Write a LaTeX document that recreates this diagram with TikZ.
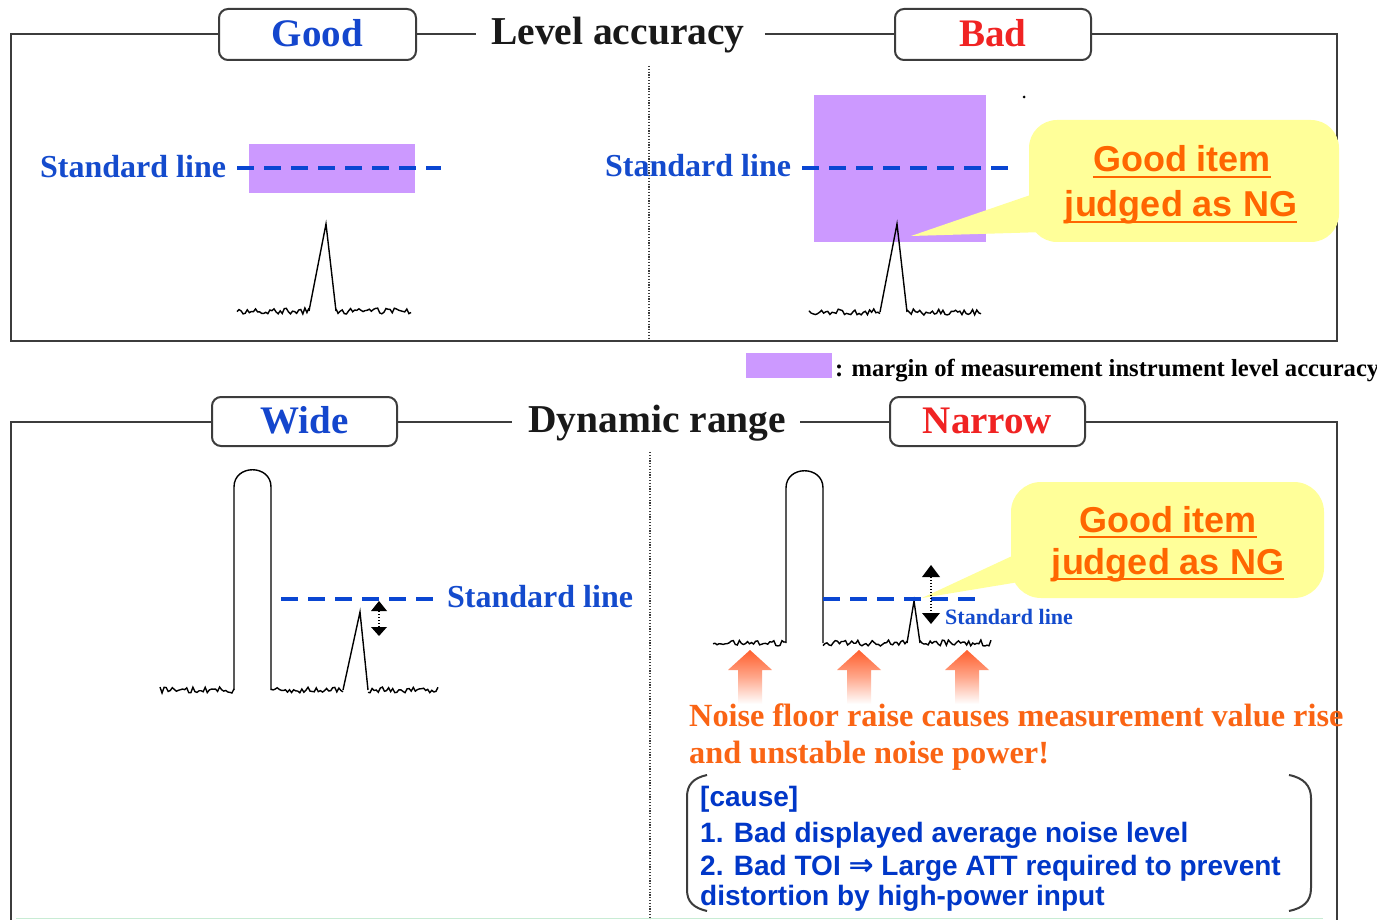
\documentclass[tikz,border=0pt]{standalone}
\usepackage{fontspec}
\setmainfont{Liberation Serif}
\newfontfamily\sansfam{Liberation Sans}
\newfontfamily\dejavu{DejaVu Sans}
\definecolor{framegray}{RGB}{60,60,60}
\definecolor{titleblue}{RGB}{20,70,205}
\definecolor{badred}{RGB}{240,35,35}
\definecolor{stdblue}{RGB}{20,75,205}
\definecolor{dashblue}{RGB}{10,70,210}
\definecolor{marginpurple}{RGB}{204,153,255}
\definecolor{callyellow}{RGB}{255,255,153}
\definecolor{callorange}{RGB}{255,102,0}
\definecolor{noiseorange}{RGB}{250,100,20}
\definecolor{arroworange}{RGB}{255,95,45}
\definecolor{causeblue}{RGB}{0,55,200}
\definecolor{faintgreen}{RGB}{200,236,212}
\newcommand{\noiseseg}[4]{\draw[sig] plot[domain=#1:#2, samples=#4] (\x,{#3+3*rand});}
\begin{document}
\begin{tikzpicture}[x=1pt,y=-1pt,
  frame/.style={draw=framegray, line width=2pt},
  labbox/.style={draw=framegray, line width=2pt, rounded corners=9pt, fill=white, inner sep=0pt, font={\bfseries\fontsize{39}{45}\selectfont}},
  title/.style={inner sep=0pt, text=black!90, font={\bfseries\fontsize{39.5}{45}\selectfont}},
  sig/.style={line width=1.4pt, black, line join=miter},
  stddash/.style={draw=dashblue, line width=4pt, dash pattern=on 17pt off 10pt},
  divider/.style={draw=framegray, line width=1.2pt, dash pattern=on 1.2pt off 1.6pt},
  stdlabel/.style={inner sep=0pt, text=stdblue, font={\bfseries\fontsize{32}{38}\selectfont}},
  stdsmall/.style={inner sep=0pt, text=stdblue, font={\bfseries\fontsize{22}{26}\selectfont}},
  calltext/.style={inner sep=0pt, text=callorange, font={\sansfam\bfseries\fontsize{36}{42}\selectfont}},
  ultext/.style={draw=callorange, line width=2.5pt},
  noisetext/.style={inner sep=0pt, text=noiseorange, font={\bfseries\fontsize{32.3}{38}\selectfont}},
  causetext/.style={inner sep=0pt, text=causeblue, font={\sansfam\bfseries\fontsize{28}{32}\selectfont}},
  legendtext/.style={inner sep=0pt, font={\bfseries\fontsize{24.6}{28}\selectfont}},
  bracket/.style={draw=framegray, line width=2pt},
  dotv/.style={draw=black, line width=1.3pt, dash pattern=on 1.3pt off 1.7pt},
  uparrow/.style={top color=arroworange, bottom color=white, middle color=arroworange!55!white}
]
\pgfmathsetseed{7}
\useasboundingbox (0,0) rectangle (1377,920);
\fill[white] (0,0) rectangle (1377,920);

% ================= TOP PANEL =================
\coordinate (tl) at (11,34.5);
\coordinate (tr) at (1337,34.5);
\coordinate (bl) at (11,341);
\coordinate (br) at (1337,341);
\node[labbox, minimum width=197pt, minimum height=51pt, text height=30pt, text depth=5pt, text=titleblue] (good) at (317.5,34.5) {Good};
\node[labbox, minimum width=196pt, minimum height=51pt, text height=30pt, text depth=5pt, text=badred] (bad) at (993,34.5) {Bad};
\node[title, anchor=base west] (lvl) at (491,45) {Level accuracy};
\draw[frame] (good.west) -- (tl) -- (bl) -- (br) -- (tr) -- (bad.east);
\draw[frame] (good.east) -- ([xshift=-15pt]lvl.west |- good.east);
\draw[frame] ([xshift=20pt]lvl.east |- bad.west) -- (bad.west);
\draw[divider] (649,66) -- (649,341);

% left: good
\fill[marginpurple] (249,144) rectangle (415,193);
\node[stdlabel, anchor=base west] (std1) at (40,178) {Standard line};
\draw[stddash] (237,168) -- (441,168);
\noiseseg{237}{309}{311}{36}
\draw[sig] (309,311) -- (326,224) -- (336,311);
\noiseseg{336}{411}{311}{37}

% right: bad
\fill[marginpurple] (814,95) rectangle (986,242);
\node[stdlabel, anchor=base west] (std2) at (605,177) {Standard line};
\draw[stddash] (802,168) -- (1010,168);
\fill (1024,97) circle (1.5pt);
\fill[callyellow, rounded corners=28pt] (1029,120) rectangle (1339,242);
\fill[callyellow] (1045,190) -- (911,236) -- (1045,232) -- cycle;
\noiseseg{809}{880}{312}{35}
\draw[sig] (880,312) -- (897,224) -- (907,312);
\noiseseg{907}{981}{312}{36}
\node[calltext, anchor=base] (c1a) at (1182,172) {Good item};
\node[calltext, anchor=base] (c1b) at (1181,217) {judged as NG};
\draw[ultext] ([yshift=-5pt]c1a.base west) -- ([yshift=-5pt]c1a.base east);
\draw[ultext] ([yshift=-5pt]c1b.base west) -- ([yshift=-5pt]c1b.base east);

% legend
\node[fill=marginpurple, minimum width=86pt, minimum height=25pt, inner sep=0pt] (legbox) at (789,365.5) {};
\node[legendtext, anchor=base west] (legtxt) at (835,376) {: margin of measurement instrument level accuracy};

% ================= BOTTOM PANEL =================
\coordinate (tl2) at (11,421.5);
\coordinate (bl2) at (11,920);
\coordinate (tr2) at (1337,421.5);
\coordinate (br2) at (1337,920);
\node[labbox, minimum width=185pt, minimum height=49pt, text height=28pt, text depth=5pt, text=titleblue] (wide) at (304.5,421.5) {Wide};
\node[labbox, minimum width=195pt, minimum height=49pt, text height=28pt, text depth=5pt, text=badred] (narrow) at (987.5,421.5) {Narrow};
\node[title, anchor=base west] (dyn) at (528,432) {Dynamic range};
\draw[frame] (wide.west) -- (tl2) -- (bl2);
\draw[frame] (narrow.east) -- (tr2) -- (br2);
\draw[frame] (wide.east) -- ([xshift=-16pt]dyn.west |- wide.east);
\draw[frame] ([xshift=14pt]dyn.east |- narrow.west) -- (narrow.west);
\draw[divider] (650,452) -- (650,920);
\draw[faintgreen, line width=1.5pt] (16,918.5) -- (1323,918.5);

% left: wide
\draw[sig] (234,690) -- (234,487) .. controls (234,464) and (271,464) .. (271,487) -- (271,690);
\noiseseg{160}{234}{690}{37}
\noiseseg{271}{343}{690}{36}
\draw[sig] (343,690) -- (360,612) -- (368,690);
\noiseseg{368}{438}{690}{35}
\draw[stddash] (281,599) -- (438,599);
\node[stdlabel, anchor=base west] (std3) at (447,607) {Standard line};
\fill (379,601) -- (371,611) -- (387,611) -- cycle;
\draw[dotv] (379,611) -- (379,627);
\fill (371,627) -- (387,627) -- (379,636) -- cycle;

% right: narrow
\fill[callyellow, rounded corners=30pt] (1011,482) rectangle (1324,598);
\fill[callyellow] (1025,550) -- (922,598) -- (1025,581) -- cycle;
\draw[sig] (786,643) -- (786,488) .. controls (786,465) and (823,465) .. (823,488) -- (823,643);
\noiseseg{713}{786}{643}{37}
\noiseseg{823}{907}{643}{42}
\draw[sig] (907,643) -- (914,601) -- (920,643);
\noiseseg{920}{991}{643}{36}
\draw[stddash] (823,599) -- (978,599);
\node[stdsmall, anchor=base west] (std4) at (945,624) {Standard line};
\fill (931,565) -- (922,577) -- (940,577) -- cycle;
\draw[dotv] (931,577) -- (931,613);
\fill (922,613) -- (940,613) -- (931,624) -- cycle;
\node[calltext, anchor=base] (c2a) at (1168,532) {Good item};
\node[calltext, anchor=base] (c2b) at (1168,574) {judged as NG};
\draw[ultext] ([yshift=-5pt]c2a.base west) -- ([yshift=-5pt]c2a.base east);
\draw[ultext] ([yshift=-5pt]c2b.base west) -- ([yshift=-5pt]c2b.base east);

% noise floor arrows
\foreach \cx in {750,859,967} {
  \shade[uparrow] (\cx,650) -- (\cx+22,670) -- (\cx+12,670) -- (\cx+12,704) -- (\cx-12,704) -- (\cx-12,670) -- (\cx-22,670) -- cycle;
}
\node[noisetext, anchor=base west] (nt1) at (689,726) {Noise floor raise causes measurement value rise};
\node[noisetext, anchor=base west] (nt2) at (689,763) {and unstable noise power!};

% cause bracket box
\draw[bracket] (707,775) .. controls (693,778) and (687,785) .. (687,797) -- (687,890) .. controls (687,902) and (694,908) .. (707,911);
\draw[bracket] (1289,775) .. controls (1304,778) and (1311,786) .. (1311,798) -- (1311,888) .. controls (1311,902) and (1303,908) .. (1289,911);
\node[causetext, anchor=base west] (ca0) at (700,806) {[cause]};
\node[causetext, anchor=base west] (ca1) at (700,842) {1. Bad displayed average noise level};
\node[causetext, anchor=base west] (ca2) at (700,875) {2. Bad TOI {\dejavu\bfseries\fontsize{30}{32}\selectfont ⇒} Large ATT required to prevent};
\node[causetext, anchor=base west] (ca3) at (700,905) {distortion by high-power input};
\end{tikzpicture}
\end{document}
